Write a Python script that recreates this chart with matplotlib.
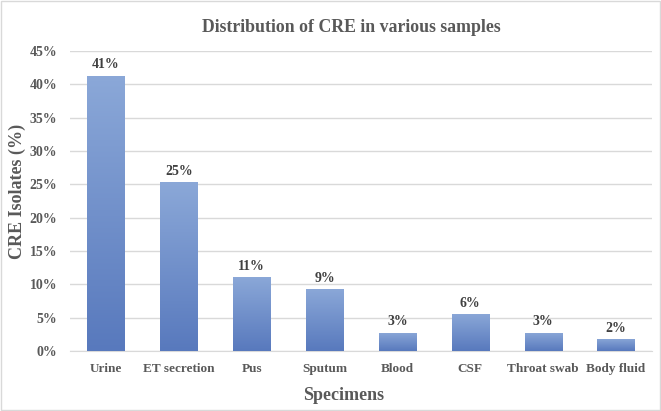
import matplotlib
matplotlib.use("Agg")
import matplotlib.pyplot as plt
import numpy as np
from matplotlib.colors import LinearSegmentedColormap
from matplotlib.ticker import FuncFormatter

categories = ["Urine", "ET secretion", "Pus", "Sputum", "Blood", "CSF", "Throat swab", "Body fluid"]
values = [41.3, 25.3, 11.1, 9.3, 2.75, 5.55, 2.75, 1.8]
labels = ["41%", "25%", "11%", "9%", "3%", "6%", "3%", "2%"]
yticks = [0, 5, 10, 15, 20, 25, 30, 35, 40, 45]

plt.rcParams['font.family'] = ['Liberation Serif', 'DejaVu Serif']

fig = plt.figure(figsize=(6.61, 4.11), dpi=100)
ax = fig.add_axes([0.1053, 0.146, 0.8817, 0.730])

x = np.arange(len(categories))
bars = ax.bar(x, values, width=0.51, color="#6f8fcb", zorder=2)

cmap = LinearSegmentedColormap.from_list("g", ["#5879bd", "#8ba8d8"])
grad = np.linspace(0, 1, 256).reshape(-1, 1)
for b in bars:
    x0, y0 = b.get_x(), b.get_y()
    w, h = b.get_width(), b.get_height()
    im = ax.imshow(grad, cmap=cmap, aspect='auto', origin='lower',
                   extent=[x0, x0 + w, y0, y0 + h], zorder=3)
    im.set_clip_path(b)

for xi, v, lab in zip(x, values, labels):
    ax.annotate(lab, (xi, v), xytext=(0, 3), textcoords='offset points',
                ha='center', va='bottom', fontsize=10, fontweight='bold', color='#404040')

ax.set_xlim(-0.5, len(categories) - 0.5)
ax.set_ylim(0, 45)
ax.set_yticks(yticks)
ax.yaxis.set_major_formatter(FuncFormatter(lambda v, p: f"{int(v)}%"))
ax.set_xticks(x)
ax.set_xticklabels(categories)
ax.tick_params(axis='y', length=0, labelsize=10, colors='#595959', pad=9)
ax.tick_params(axis='x', length=0, labelsize=9.5, colors='#595959', pad=9)
for t in ax.get_xticklabels() + ax.get_yticklabels():
    t.set_fontweight('bold')
ax.grid(axis='y', color='#d9d9d9', linewidth=1, zorder=0)
ax.set_axisbelow(True)
for s in ['top', 'right', 'left']:
    ax.spines[s].set_visible(False)
ax.spines['bottom'].set_color('#d9d9d9')

ax.set_ylabel("CRE Isolates (%)", fontsize=13, fontweight='bold', color='#595959', va='center')
ax.yaxis.set_label_coords(-0.090, 0.533)
ax.set_xlabel("Specimens", fontsize=13, fontweight='bold', color='#595959', va='center')
ax.xaxis.set_label_coords(0.471, -0.147)
fig.text(0.532, 0.934, "Distribution of CRE in various samples", ha='center', va='center',
         fontsize=12.8, fontweight='bold', color='#595959')

fig.patches.append(plt.Rectangle((0.002, 0.002), 0.996, 0.996, transform=fig.transFigure,
                                 fill=False, edgecolor='#d9d9d9', linewidth=1))

fig.savefig("out.png", dpi=100)
